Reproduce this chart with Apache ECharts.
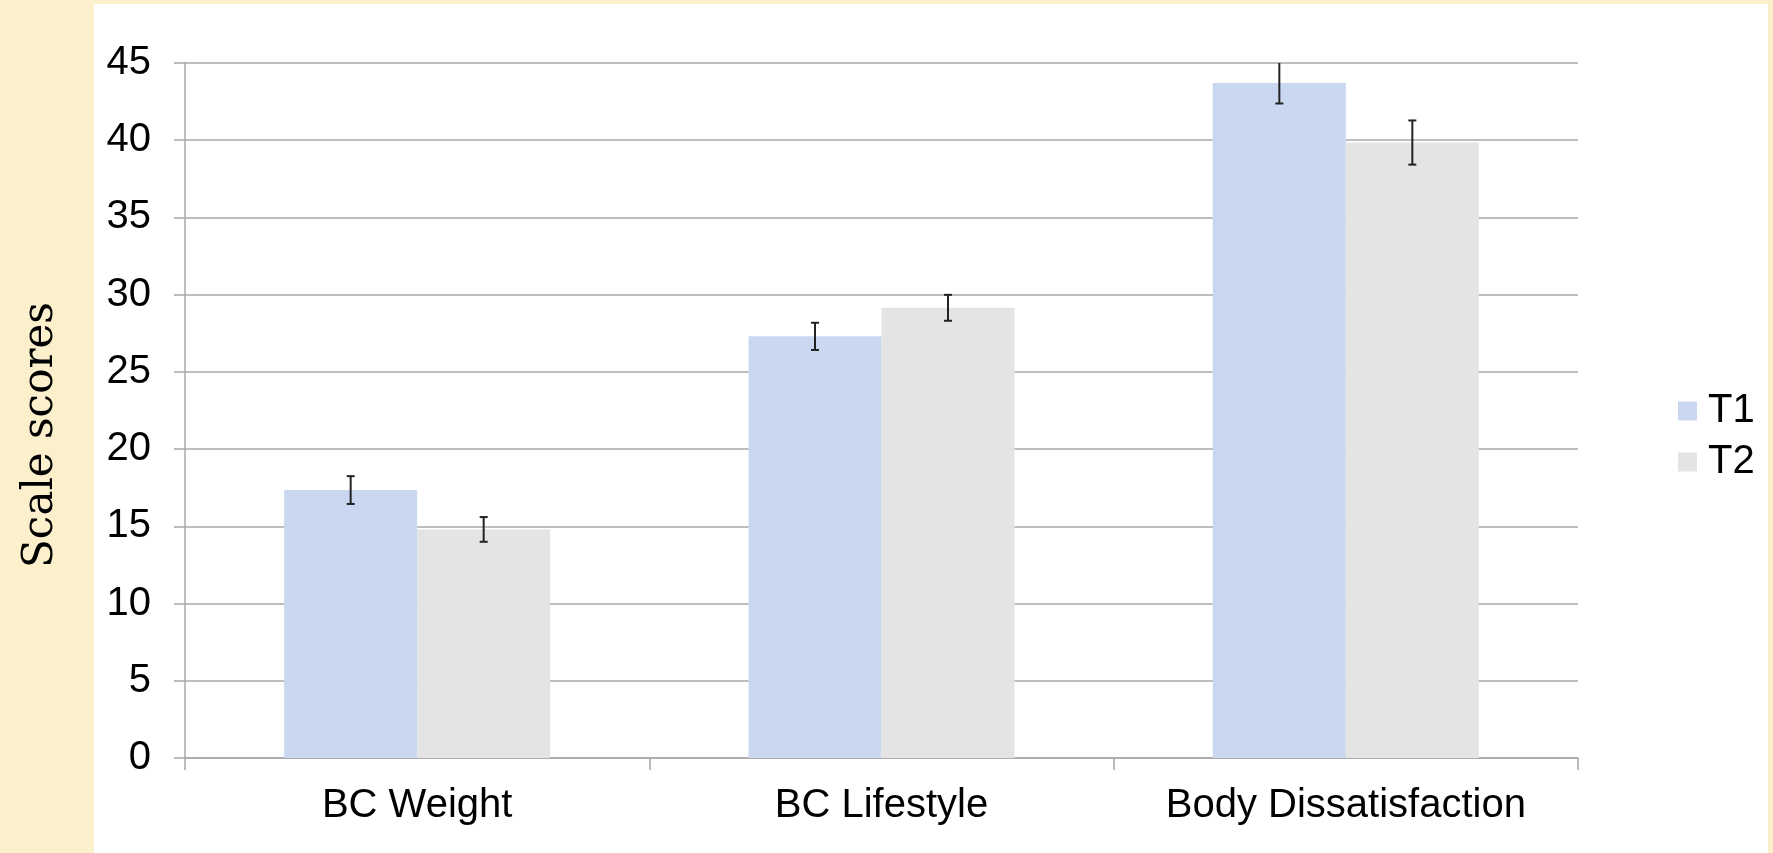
<!DOCTYPE html>
<html>
<head>
<meta charset="utf-8">
<script src="https://cdn.jsdelivr.net/npm/echarts@6/dist/echarts.min.js"></script>
<style>
  html, body { margin: 0; padding: 0; background: #fcefcb; }
  .panel { position: absolute; left: 94px; top: 4px; width: 1674px; height: 849px; background: #ffffff; }
  #chart { position: absolute; left: 0; top: 0; width: 1773px; height: 853px; }
</style>
</head>
<body>
<div class="panel"></div>
<div id="chart"></div>
<script>
var categories = ['BC Weight', 'BC Lifestyle', 'Body Dissatisfaction'];
var t1Values = [17.35, 27.3, 43.7];
var t2Values = [14.8, 29.15, 39.85];
var t1Err = [0.9, 0.88, 1.32];
var t2Err = [0.8, 0.84, 1.43];
var yTicks = [0, 45, 5]; // min, max, interval

var barW = 133;
var gridColor = '#a8a8a8';

// error bar data: [category index, low, high]
function errData(vals, errs) {
  return vals.map(function (v, i) { return [i, v - errs[i], v + errs[i]]; });
}

function errRender(offset) {
  return function (params, api) {
    var idx = api.value(0);
    var lo = api.value(1);
    var hi = api.value(2);
    var capped = hi <= yTicks[1];
    if (!capped) hi = yTicks[1];
    var p1 = api.coord([idx, lo]);
    var p2 = api.coord([idx, hi]);
    var x = p1[0] + offset;
    var style = { stroke: '#222', lineWidth: 2 };
    var kids = [
      { type: 'line', shape: { x1: x, y1: p1[1], x2: x, y2: p2[1] }, style: style },
      { type: 'line', shape: { x1: x - 4, y1: p1[1], x2: x + 4, y2: p1[1] }, style: style }
    ];
    if (capped) {
      kids.push({ type: 'line', shape: { x1: x - 4, y1: p2[1], x2: x + 4, y2: p2[1] }, style: style });
    }
    return { type: 'group', children: kids };
  };
}

var chart = echarts.init(document.getElementById('chart'));
var option = {
  backgroundColor: 'transparent',
  animation: false,
  textStyle: { fontFamily: 'Liberation Sans, Arial, sans-serif' },
  grid: { left: 185, top: 63, width: 1393, height: 695, containLabel: false },
  legend: {
    orient: 'vertical',
    left: 1673,
    top: 386,
    icon: 'rect',
    itemWidth: 19,
    itemHeight: 19,
    itemGap: 11,
    data: ['T1', 'T2'],
    textStyle: { fontSize: 40, color: '#000', lineHeight: 40, padding: [0, 0, 0, 6] }
  },
  graphic: [{
    type: 'text',
    x: 41,
    y: 435,
    rotation: Math.PI / 2,
    style: {
      text: 'Scale scores',
      font: '42px "DejaVu Serif", serif',
      fill: '#000',
      textAlign: 'center',
      textVerticalAlign: 'middle'
    }
  }],
  xAxis: {
    type: 'category',
    data: categories,
    axisLine: { lineStyle: { color: gridColor, width: 1.5 } },
    axisTick: { show: true, length: 12, interval: 0, lineStyle: { color: gridColor, width: 1.5 } },
    axisLabel: { fontSize: 40, color: '#000', margin: 28, interval: 0 }
  },
  yAxis: {
    type: 'value',
    min: yTicks[0],
    max: yTicks[1],
    interval: yTicks[2],
    axisLine: { show: true, lineStyle: { color: gridColor, width: 1.5 } },
    axisTick: { show: true, length: 11, lineStyle: { color: gridColor, width: 1.5 } },
    splitLine: { lineStyle: { color: gridColor, width: 1.5 } },
    axisLabel: { fontSize: 40, color: '#000', margin: 34 }
  },
  series: [
    {
      name: 'T1', type: 'bar', data: t1Values, barWidth: barW, barGap: '0%',
      itemStyle: { color: '#c9d7f0' }
    },
    {
      name: 'T2', type: 'bar', data: t2Values, barWidth: barW, barGap: '0%',
      itemStyle: { color: '#e4e4e4' }
    },
    {
      type: 'custom', data: errData(t1Values, t1Err), renderItem: errRender(-barW / 2),
      encode: { x: 0, y: [1, 2] }, z: 5, silent: true
    },
    {
      type: 'custom', data: errData(t2Values, t2Err), renderItem: errRender(barW / 2),
      encode: { x: 0, y: [1, 2] }, z: 5, silent: true
    }
  ]
};
chart.setOption(option);
window.onresize = function () { chart.resize(); };
</script>
</body>
</html>
